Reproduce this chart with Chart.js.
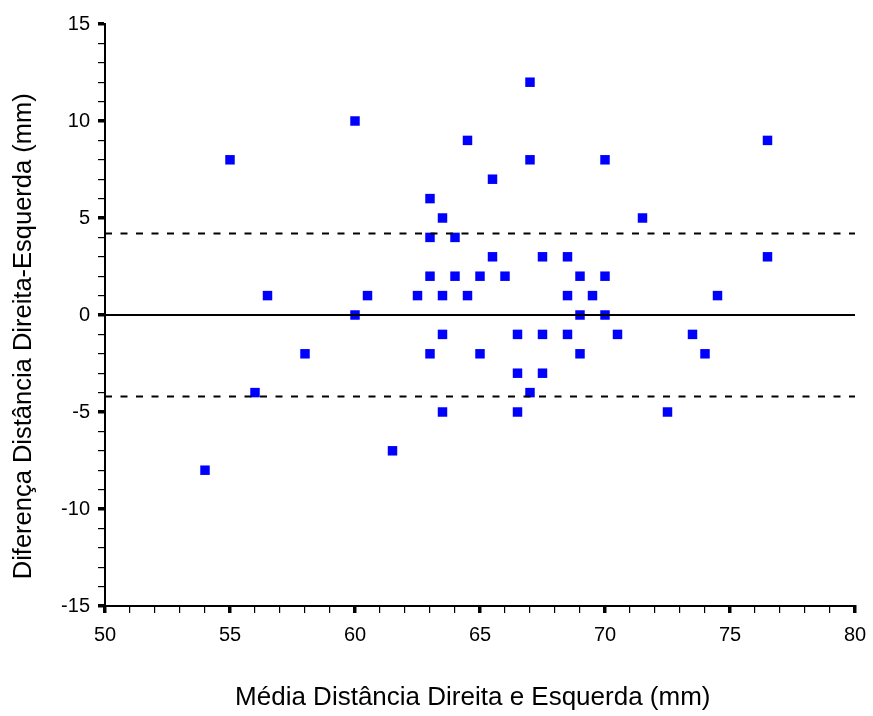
<!DOCTYPE html>
<html>
<head>
<meta charset="utf-8">
<script src="https://cdn.jsdelivr.net/npm/chart.js@4"></script>
<style>
  html, body { margin: 0; padding: 0; background: #fff; }
  #wrap { width: 873px; height: 716px; }
</style>
</head>
<body>
<div id="wrap"><canvas id="blandChart" width="873" height="716"></canvas></div>
<script>
// DATA #######################################################################

var meanDist = [54, 55, 56, 56.5, 58, 60, 60, 60.5, 61.5, 62.5,
                63, 63, 63, 63, 63.5, 63.5, 63.5, 63.5, 64, 64,
                64.5, 64.5, 65, 65, 65.5, 65.5, 66, 66.5, 66.5, 66.5,
                67, 67, 67, 67.5, 67.5, 67.5, 68.5, 68.5, 68.5, 69,
                69, 69, 69.5, 70, 70, 70, 70.5, 71.5, 72.5, 73.5,
                74, 74.5, 76.5, 76.5];
var diffDist = [-8, 8, -4, 1, -2, 10, 0, 1, -7, 1,
                6, 4, 2, -2, 5, 1, -1, -5, 4, 2,
                9, 1, 2, -2, 7, 3, 2, -1, -3, -5,
                12, 8, -4, 3, -1, -3, 3, 1, -1, 2,
                0, -2, 1, 8, 2, 0, -1, 5, -5, -1,
                -2, 1, 9, 3];

var lineRange = [50, 80];
var zeroLine = 0;
var upperLimit = 4.2;
var lowerLimit = -4.2;

var xTicks = [50, 55, 60, 65, 70, 75, 80];
var yTicks = [-15, -10, -5, 0, 5, 10, 15];


// SCATTER ####################################################################

var points = meanDist.map(function (x, i) {
    return {x: x, y: diffDist[i]};
});

function hLine(value) {
    return lineRange.map(function (x) { return {x: x, y: value}; });
}

var font = "'Liberation Sans', Arial, sans-serif";

function isMajor(value, list) {
    return list.indexOf(value) !== -1;
}

var ctx_scatter = document.getElementById("blandChart");

var myScatter = new Chart(ctx_scatter, {
    type: 'scatter',
    data: {
        datasets: [
            {
                label: "Diferença",
                data: points,
                pointStyle: 'rect',
                pointRadius: 6.7,
                pointBorderWidth: 0,
                backgroundColor: "#0000FF",
                borderColor: "#0000FF",
                order: 2
            },
            {
                label: "Zero",
                type: 'line',
                data: hLine(zeroLine),
                borderColor: "#000",
                borderWidth: 2,
                pointRadius: 0,
                fill: false,
                order: 1
            },
            {
                label: "Limite superior",
                type: 'line',
                data: hLine(upperLimit),
                borderColor: "#000",
                borderWidth: 2,
                borderDash: [7, 8.5],
                pointRadius: 0,
                fill: false,
                order: 1
            },
            {
                label: "Limite inferior",
                type: 'line',
                data: hLine(lowerLimit),
                borderColor: "#000",
                borderWidth: 2,
                borderDash: [7, 8.5],
                pointRadius: 0,
                fill: false,
                order: 1
            }
        ]
    },
    options: {
        responsive: false,
        animation: false,
        layout: {
            padding: {top: 24, right: 18, left: 9, bottom: 3}
        },
        plugins: {
            legend: {display: false},
            tooltip: {enabled: false}
        },
        scales: {
            x: {
                type: 'linear',
                min: 50,
                max: 80,
                afterFit: function (scale) {
                    scale.height = 107;
                    scale.paddingRight = 0;
                },
                afterBuildTicks: function (scale) {
                    var t = [];
                    for (var v = 50; v <= 80; v++) t.push({value: v});
                    scale.ticks = t;
                },
                ticks: {
                    autoSkip: false,
                    maxRotation: 0,
                    color: "#000",
                    padding: 10,
                    font: {family: font, size: 20},
                    callback: function (v) { return isMajor(v, xTicks) ? v : ""; }
                },
                grid: {
                    drawOnChartArea: false,
                    drawTicks: true,
                    tickLength: 7,
                    color: "#000",
                    lineWidth: function (c) {
                        return c.tick && isMajor(c.tick.value, xTicks) ? 3.5 : 1.2;
                    }
                },
                border: {display: true, color: "#000", width: 2},
                title: {
                    display: true,
                    // trailing spaces nudge the title a bit left, like the original
                    text: "Média Distância Direita e Esquerda (mm)  ",
                    color: "#000",
                    font: {family: font, size: 26},
                    padding: {top: 30, bottom: 0}
                }
            },
            y: {
                type: 'linear',
                min: -15,
                max: 15,
                afterFit: function (scale) { scale.width = 96; },
                afterBuildTicks: function (scale) {
                    var t = [];
                    for (var v = -15; v <= 15; v++) t.push({value: v});
                    scale.ticks = t;
                },
                ticks: {
                    autoSkip: false,
                    color: "#000",
                    padding: 8,
                    font: {family: font, size: 20},
                    callback: function (v) { return isMajor(v, yTicks) ? v : ""; }
                },
                grid: {
                    drawOnChartArea: false,
                    drawTicks: true,
                    tickLength: 7,
                    color: "#000",
                    lineWidth: function (c) {
                        return c.tick && isMajor(c.tick.value, yTicks) ? 3.5 : 1.2;
                    }
                },
                border: {display: true, color: "#000", width: 2},
                title: {
                    display: true,
                    // trailing spaces push the rotated title down a little
                    text: "Diferença Distância Direita-Esquerda (mm)      ",
                    color: "#000",
                    font: {family: font, size: 25.5},
                    padding: {top: 0, bottom: 4}
                }
            }
        }
    }
});
</script>
</body>
</html>
